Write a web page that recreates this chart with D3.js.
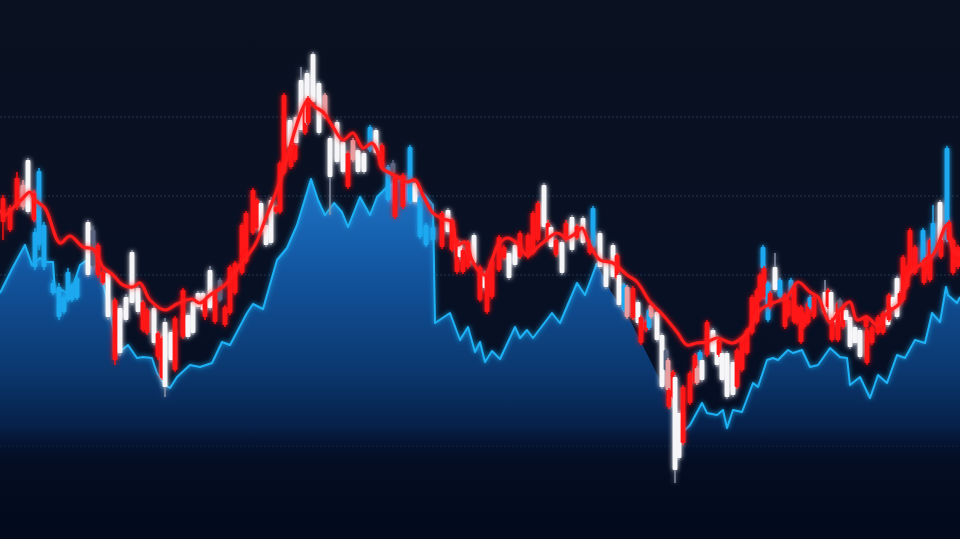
<!DOCTYPE html>
<html><head><meta charset="utf-8">
<script src="https://cdn.jsdelivr.net/npm/d3@7"></script>
<style>html,body{margin:0;padding:0;background:#08101f;overflow:hidden}</style>
</head><body><svg id="chart" width="960" height="539"></svg>
<script>
// price levels of dashed guide lines
const gridLevels = [422, 343, 264, 93];

// benchmark (area) series: [session, price]
const areaSeries = [[0,246],[3.25,272],[6.25,294],[8,274],[10,281],[11.75,277],[13.25,277],[13.75,247],[15.5,249],[17.5,244],[20,274],[21.75,279],[24.25,274],[25.5,261],[27.5,226],[29.5,186],[32,194],[34.25,181],[35.75,182],[38,181],[39.25,166],[41.25,154],[42.5,151],[44.25,162],[47.5,174],[50,172],[53,176],[55.5,197],[57.5,194],[61.75,226],[63.25,235],[65.75,230],[69.25,279],[71.75,291],[74.25,314],[77.75,360],[79.5,339],[81.25,324],[83.5,336],[85.5,327],[87,312],[90,342],[92.5,324],[94.25,342],[96.75,352],[100,359],[103,354],[106.25,344],[108.25,334],[108.75,216],[112.5,226],[115,199],[117,212],[118.75,187],[120,197],[121.25,177],[123,188],[125,180],[128.75,212],[130,201],[131.75,209],[133.25,201],[138,226],[140,216],[144.25,256],[146.25,244],[149.25,276],[152.5,249],[157.5,219],[162.5,179],[166.25,149],[171.25,109],[172.5,114],[175.5,136],[176.75,126],[179.25,124],[180.75,129],[181.75,111],[183.25,129],[185.5,127],[188.25,156],[189.5,152],[191.75,179],[193.25,181],[194.5,179],[197,189],[198.25,186],[200.5,189],[202.5,172],[204.5,174],[207.5,191],[210,182],[211.75,181],[212.5,154],[215,162],[217.5,141],[219.5,164],[221.75,156],[224.25,184],[226.25,181],[228.75,199],[231.25,196],[233,226],[235,217],[236.5,252],[237,244],[239.25,236],[240,242]];

// sessions where the benchmark outline is hidden behind the candles
const hiddenOutline = [149.5, 171];

// moving average: [session, price]
const maSeries = [[0,329],[1.25,324],[3.25,331],[5.75,341],[7.5,347],[8.75,339],[11.25,331],[15,296],[17.5,303],[20.75,292],[23.25,290],[25.75,272],[28.25,264],[30.75,254],[33.25,252],[35,256],[37.5,239],[41.25,229],[44.25,235],[48,240],[50,236],[52.5,244],[56.25,254],[60,274],[63.75,294],[66.25,319],[68.75,344],[71.25,374],[73.75,409],[75.5,429],[77,439],[78.75,432],[80.75,427],[83.25,412],[85.75,399],[88.25,406],[90.75,391],[93,396],[94.25,389],[95.5,371],[97.5,366],[100,361],[101.75,357],[103.75,359],[105.75,344],[108.25,326],[110.75,320],[113,317],[114.25,294],[116.25,297],[118,279],[119.5,269],[121.25,264],[123,279],[124.5,294],[126.75,301],[129.25,296],[131.75,284],[135,294],[139.25,306],[141.75,301],[144.25,307],[145.5,311],[147.5,294],[150,279],[153.25,276],[156.75,264],[159.25,257],[162.5,237],[165.75,224],[169.25,207],[171.75,194],[174.25,196],[176.75,197],[179.25,201],[183.25,196],[186.25,204],[188,214],[190,229],[193.25,236],[196.75,242],[199.5,257],[202.5,247],[204.5,242],[207.5,217],[210,229],[212.5,237],[214.25,219],[216.75,222],[219.25,214],[221.75,226],[225,236],[227.5,266],[230,274],[233.25,284],[236.75,314],[238.25,289],[240,284]];

// candles: [session, open, high, low, close, style]
const candles = [
[0.75,341,344,299,317,"R"],[2.5,331,334,307,309,"R"],[4.25,361,367,329,332,"R"],[5.75,354,359,329,332,"P"],[7,327,381,325,379,"W"],[8.5,346,349,317,319,"R"],[8.75,272,311,269,307,"B"],[9.75,294,371,289,368,"B"],[11,272,317,269,314,"B"],[13.25,246,259,244,256,"B"],[14.75,222,256,219,252,"B"],[16,227,245,225,242,"B"],[17,239,271,237,267,"B"],[18,239,256,237,254,"B"],[19.25,241,263,239,261,"B"],
[22,264,319,262,317,"W"],[23.25,273,313,271,309,"G"],[24.5,294,296,261,264,"R"],[25.75,267,271,254,256,"R"],[27,222,269,219,266,"W"],[28.75,239,241,174,179,"R"],[30,186,234,183,231,"W"],[31.5,219,245,217,242,"W"],[33,236,289,234,287,"W"],[34.5,227,253,225,251,"W"],[35.75,237,239,207,209,"R"],[36.75,229,231,204,206,"R"],[38.5,196,233,194,231,"W"],[39.5,206,208,179,182,"R"],[40.5,201,203,159,161,"R"],[41.25,152,221,142,217,"W"],[42.75,179,209,177,207,"W"],[43.75,221,223,167,169,"R"],[45.75,249,251,200,202,"R"],[47,202,226,200,224,"W"],
[48.25,206,239,204,237,"W"],[49.5,232,248,230,246,"W"],[50.75,229,248,227,246,"W"],[51.25,239,241,219,222,"R"],[52.5,231,273,229,269,"W"],[53.75,246,248,215,217,"R"],[55,239,261,237,259,"G"],[56.25,232,234,212,214,"R"],[57.5,272,274,224,226,"R"],[58.75,276,278,244,246,"R"],[60.5,314,316,264,266,"R"],[61.5,326,328,275,277,"R"],[63.25,349,351,304,306,"R"],[64.25,339,341,309,311,"R"],[65.25,307,338,305,336,"W"],[66.5,294,316,292,314,"W"],[67.75,296,342,294,339,"W"],[69,332,334,325,327,"R"],[70,376,378,325,327,"R"],[71,444,446,364,366,"R"],
[72.5,392,421,390,419,"W"],[72.75,394,396,370,372,"R"],[73.75,399,401,377,379,"R"],[74,396,424,394,422,"W"],[75.25,409,472,407,459,"W"],[76.25,432,434,404,406,"R"],[76.75,416,469,414,466,"W"],[77,441,443,414,416,"R"],[78.25,437,487,435,485,"W"],[79.75,406,458,404,456,"W"],[81.25,444,446,420,422,"P"],[82.5,362,403,324,401,"W"],[84.25,377,419,375,417,"W"],[85.75,367,399,365,397,"W"],[87,386,388,350,352,"R"],[88.25,399,401,377,379,"P"],[89.5,367,391,365,389,"W"],[91,367,388,365,386,"W"],[92.5,389,414,387,412,"B"],[94,386,411,384,409,"W"],[95.5,394,396,370,372,"R"],
[97,339,374,337,372,"B"],[98.25,366,379,364,376,"G"],[98.75,362,364,320,322,"R"],[100.75,364,366,330,332,"R"],[102.5,337,394,335,392,"B"],[103.75,337,358,335,356,"W"],[105,302,344,300,342,"B"],[106.5,294,316,292,314,"B"],[108.25,299,314,297,312,"B"],[110.5,326,328,290,292,"R"],[112,307,331,305,329,"W"],[113,319,321,287,289,"R"],[114.25,299,301,265,267,"R"],[115,282,298,280,296,"W"],[115.75,289,291,265,267,"R"],[117,297,299,270,272,"R"],[118.5,276,306,274,304,"W"],[120,272,274,237,239,"R"],[121.25,251,268,249,266,"W"],[121.75,266,268,225,227,"R"],[123,279,281,240,242,"R"],[124.75,302,304,267,269,"R"],
[126,292,294,279,281,"R"],[127.25,261,288,259,286,"W"],[128.75,274,296,272,294,"W"],[130,306,308,280,282,"R"],[132,304,306,280,282,"R"],[133.25,326,328,284,286,"R"],[134.5,336,338,297,299,"R"],[136,312,356,310,354,"W"],[137,316,319,297,299,"R"],[137.75,292,314,290,312,"W"],[139,299,301,282,284,"R"],[140.5,266,299,264,297,"W"],[141.5,316,319,297,299,"R"],[143,289,324,287,322,"W"],[144.25,313,315,299,301,"R"],[145.75,296,323,294,321,"W"],[147.5,296,299,284,286,"R"],[148.25,292,333,290,331,"B"],
[150,272,308,270,306,"W"],[151.5,252,279,250,277,"W"],[153.25,262,296,260,294,"W"],[154.25,284,286,259,261,"R"],[154.75,234,266,232,264,"W"],[156,229,256,227,254,"B"],[156.75,252,254,220,222,"P"],[158.25,251,253,219,221,"R"],[159.5,216,239,214,237,"W"],[160.25,222,224,194,196,"R"],[161.5,217,219,207,209,"R"],[162.25,211,231,209,229,"B"],[162.75,234,236,220,222,"P"],[164.25,199,229,197,227,"W"],[165.5,152,206,150,204,"W"],[166.5,169,191,167,189,"G"],[167,179,181,147,149,"P"],[167.25,149,151,130,132,"R"],[168.25,167,169,140,142,"R"],[168.75,69,164,56,162,"W"],[169.75,81,128,79,126,"W"],[170.75,152,154,94,96,"R"],
[172.5,166,168,134,136,"R"],[173.75,184,186,155,157,"R"],[174.25,171,173,154,156,"P"],[175,179,189,177,187,"B"],[175.5,159,181,157,179,"W"],[176.75,217,219,182,184,"R"],[178.25,187,211,185,209,"W"],[179.25,174,204,172,202,"W"],[179.75,199,201,182,184,"R"],[180.5,159,188,157,186,"W"],[181.75,142,188,140,186,"W"],[183.25,144,179,142,177,"W"],[184.25,189,191,150,152,"R"],[185.5,201,203,167,169,"R"],[186.75,209,211,184,186,"R"],[188,242,244,204,206,"R"],[189.25,249,251,215,217,"R"],[190,264,266,237,239,"R"],
[190.75,271,294,269,292,"B"],[191,271,273,240,242,"R"],[192,219,258,217,256,"B"],[192.5,246,248,230,232,"R"],[193.75,249,286,247,272,"W"],[195,242,261,240,259,"B"],[196.25,244,246,210,212,"R"],[197,239,242,221,223,"R"],[197.75,246,261,244,259,"B"],[198.5,252,254,215,217,"R"],[199.25,232,234,214,216,"R"],[200.25,232,234,195,197,"R"],[201,225,227,210,212,"R"],[202,236,238,214,216,"R"],[202.5,232,244,230,242,"B"],[203.5,242,244,220,222,"R"],
[206.25,226,259,224,247,"W"],[207,249,251,230,232,"R"],[207.75,217,249,215,247,"W"],[208,219,221,197,199,"R"],[209,217,229,215,227,"W"],[209.5,236,238,197,199,"R"],[210,229,241,227,239,"G"],[210.75,232,234,210,212,"R"],[211.5,219,231,217,229,"W"],[212.5,192,224,190,222,"W"],[213.75,196,214,194,212,"W"],[215,182,211,180,209,"W"],[216.5,222,224,210,212,"R"],[216.75,209,211,174,176,"R"],[218,212,214,194,196,"R"],[219.5,222,224,204,206,"R"],[220.75,226,228,204,206,"R"],
[222,214,231,212,229,"W"],[222.25,244,246,217,219,"R"],[223.25,232,244,230,242,"W"],[224.25,222,263,220,261,"W"],[225,246,248,234,236,"R"],[225.75,282,284,237,239,"R"],[226.75,272,274,250,252,"R"],[227.5,309,311,264,266,"R"],[228.75,292,294,264,266,"R"],[230.75,274,311,272,309,"B"],[231,279,281,254,256,"R"],[231.75,282,284,264,266,"R"],[232.5,299,301,257,259,"R"],[233.25,284,334,282,316,"B"],[235,292,339,290,337,"W"],[235.25,299,301,280,282,"R"],[236.75,299,393,297,391,"B"],[237.25,317,319,297,299,"R"],[238.25,299,301,264,266,"R"],[239.5,292,294,270,272,"R"]
];

const styleColors = {R:"#ff1414", W:"#f6f6f8", B:"#1ba9ef", P:"#e79ca0", G:"#5b6580"};

const W = 960, H = 539;
const svg = d3.select("#chart");
const x = d3.scaleLinear().domain([0, 240]).range([0, W]);
const y = d3.scaleLinear().domain([0, 539]).range([H, 0]);

const defs = svg.append("defs");
const bg = defs.append("linearGradient").attr("id","bg").attr("x1",0).attr("x2",0).attr("y1",0).attr("y2",1);
bg.append("stop").attr("offset","0%").attr("stop-color","#0a1120");
bg.append("stop").attr("offset","55%").attr("stop-color","#081024");
bg.append("stop").attr("offset","85%").attr("stop-color","#040d22");
bg.append("stop").attr("offset","100%").attr("stop-color","#020a1c");

const ag = defs.append("linearGradient").attr("id","areaGrad").attr("gradientUnits","userSpaceOnUse")
  .attr("x1",0).attr("x2",0).attr("y1",y(370)).attr("y2",y(70));
ag.append("stop").attr("offset","0%").attr("stop-color","#2079cc");
ag.append("stop").attr("offset","35%").attr("stop-color","#12549e");
ag.append("stop").attr("offset","68%").attr("stop-color","#0b376d");
ag.append("stop").attr("offset","86%").attr("stop-color","#062049");
ag.append("stop").attr("offset","100%").attr("stop-color","#030c24").attr("stop-opacity",0);

const glow = defs.append("filter").attr("id","glow").attr("x","-20%").attr("y","-20%").attr("width","140%").attr("height","140%");
glow.append("feGaussianBlur").attr("in","SourceGraphic").attr("stdDeviation",2.5).attr("result","b");
const fm = glow.append("feMerge");
fm.append("feMergeNode").attr("in","b");
fm.append("feMergeNode").attr("in","SourceGraphic");

svg.append("rect").attr("width",W).attr("height",H).attr("fill","url(#bg)");

// grid
svg.append("g").selectAll("line").data(gridLevels).join("line")
  .attr("x1",0).attr("x2",W).attr("y1",d=>y(d)).attr("y2",d=>y(d))
  .attr("stroke","#3c5375").attr("stroke-opacity",0.55).attr("stroke-width",1).attr("stroke-dasharray","2,2");

// area
const area = d3.area().x(d=>x(d[0])).y0(y(0)).y1(d=>y(d[1]));
svg.append("path").datum(areaSeries).attr("d",area).attr("fill","url(#areaGrad)");
const line = d3.line().x(d=>x(d[0])).y(d=>y(d[1]))
  .defined(d => !(d[0] > hiddenOutline[0] && d[0] < hiddenOutline[1]));
svg.append("path").datum(areaSeries).attr("d",line).attr("fill","none")
  .attr("stroke","#1eb2f5").attr("stroke-width",2).attr("stroke-linejoin","round").attr("filter","url(#glow)");

// candles
const bodyW = x(1.2) - x(0);
const cg = svg.append("g").attr("filter","url(#glow)");
const c = cg.selectAll("g").data(candles).join("g");
c.append("line")
  .attr("x1",d=>x(d[0])).attr("x2",d=>x(d[0]))
  .attr("y1",d=>y(d[2])).attr("y2",d=>y(d[3]))
  .attr("stroke",d=>d[5]==="W"?"#8d97ad":styleColors[d[5]]).attr("stroke-width",1.4);
c.append("rect")
  .attr("x",d=>x(d[0])-bodyW/2).attr("width",bodyW)
  .attr("y",d=>y(Math.max(d[1],d[4])))
  .attr("height",d=>Math.max(1,Math.abs(y(d[1])-y(d[4]))))
  .attr("rx",1)
  .attr("fill",d=>styleColors[d[5]]);

// moving average
svg.append("path").datum(maSeries).attr("d",d3.line().x(d=>x(d[0])).y(d=>y(d[1])).curve(d3.curveCatmullRom.alpha(0.5)))
  .attr("fill","none").attr("stroke","#ff1a1a").attr("stroke-width",3.2).attr("stroke-linejoin","round")
  .attr("filter","url(#glow)");
</script></body></html>
